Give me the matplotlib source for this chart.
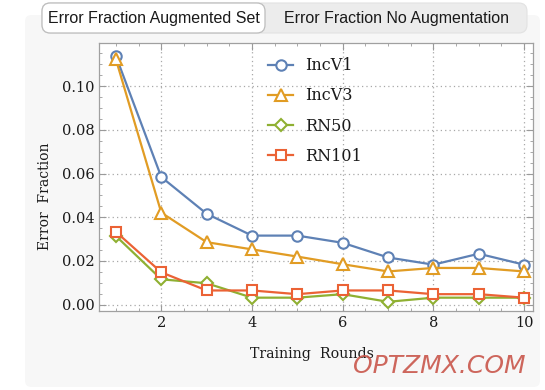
import matplotlib
matplotlib.use("Agg")
import matplotlib.pyplot as plt
from matplotlib.patches import FancyBboxPatch
from matplotlib.ticker import MultipleLocator

rounds = [1, 2, 3, 4, 5, 6, 7, 8, 9, 10]
incv1 = [0.1137, 0.0584, 0.0416, 0.0316, 0.0316, 0.0283, 0.0216, 0.0183, 0.0233, 0.0183]
incv3 = [0.1122, 0.0421, 0.0286, 0.0253, 0.0220, 0.0185, 0.0152, 0.0168, 0.0168, 0.0152]
rn50 = [0.0314, 0.0116, 0.0098, 0.0032, 0.0032, 0.0048, 0.0013, 0.0032, 0.0032, 0.0032]
rn101 = [0.0333, 0.0148, 0.0065, 0.0065, 0.0048, 0.0065, 0.0065, 0.0048, 0.0048, 0.0032]
series_names = ["IncV1", "IncV3", "RN50", "RN101"]
tab_labels = ["Error Fraction Augmented Set", "Error Fraction No Augmentation"]
xlabel = "Training  Rounds"
ylabel = "Error  Fraction"
watermark = "OPTZMX.COM"

W, H = 545, 390
fig = plt.figure(figsize=(W / 100, H / 100), dpi=100)
fig.patch.set_facecolor("white")

def fx(px):
    return px / W

def fy(py):
    return 1 - py / H

# gray panel
panel = FancyBboxPatch((fx(25), fy(387)), fx(540) - fx(25), fy(15) - fy(387),
                       boxstyle="round,pad=0,rounding_size=0.012",
                       transform=fig.transFigure, facecolor="#f7f7f7",
                       edgecolor="none", zorder=-2, mutation_aspect=W / H)
fig.patches.append(panel)

# tab bar background
tabbar = FancyBboxPatch((fx(42), fy(33)), fx(527) - fx(42), fy(3) - fy(33),
                        boxstyle="round,pad=0,rounding_size=0.015",
                        transform=fig.transFigure, facecolor="#ececec",
                        edgecolor="#e2e2e2", linewidth=0.8, zorder=-1,
                        mutation_aspect=W / H)
fig.patches.append(tabbar)
# selected tab
seltab = FancyBboxPatch((fx(42), fy(33)), fx(265) - fx(42), fy(3) - fy(33),
                        boxstyle="round,pad=0,rounding_size=0.015",
                        transform=fig.transFigure, facecolor="white",
                        edgecolor="#bdbdbd", linewidth=0.9, zorder=-0.5,
                        mutation_aspect=W / H)
fig.patches.append(seltab)
fig.text(fx(153.5), fy(18.5), tab_labels[0], ha="center", va="center",
         fontsize=11.5, family="Liberation Sans", color="#1a1a1a", zorder=3)
fig.text(fx(396), fy(18.5), tab_labels[1], ha="center", va="center",
         fontsize=11.5, family="Liberation Sans", color="#1a1a1a", zorder=3)

ax = fig.add_axes([fx(99.3), fy(311), fx(532.7) - fx(99.3), fy(43.3) - fy(311)])
ax.set_zorder(5)
ax.set_facecolor("white")

colors = ["#5E81B5", "#E19C24", "#8FB032", "#EB6235"]
markers = ["o", "^", "D", "s"]
msizes = [7.5, 8, 6.5, 7]
data = [incv1, incv3, rn50, rn101]
for vals, name, c, m, ms in zip(data, series_names, colors, markers, msizes):
    ax.plot(rounds, vals, color=c, marker=m, markersize=ms, markerfacecolor="white",
            markeredgecolor=c, markeredgewidth=1.5, linewidth=1.6, label=name,
            clip_on=False, zorder=3)

ax.set_xlim(0.633, 10.19)
ax.set_ylim(-0.0029, 0.1196)
ax.xaxis.set_minor_locator(MultipleLocator(0.5))
ax.yaxis.set_minor_locator(MultipleLocator(0.005))
ax.set_xticks([2, 4, 6, 8, 10])
ax.set_xticklabels(["2", "4", "6", "8", "10"])
ax.set_yticks([0.0, 0.02, 0.04, 0.06, 0.08, 0.10])
ax.set_yticklabels(["0.00", "0.02", "0.04", "0.06", "0.08", "0.10"])
ax.tick_params(which="both", direction="in", top=True, right=True, color="#9a9a9a",
               labelsize=10.5, labelcolor="#1a1a1a")
ax.tick_params(which="major", length=5, width=0.8)
ax.tick_params(which="minor", length=2.5, width=0.6)
for lab in ax.get_xticklabels() + ax.get_yticklabels():
    lab.set_family("DejaVu Serif")
for sp in ax.spines.values():
    sp.set_color("#a0a0a0")
    sp.set_linewidth(0.9)
ax.grid(True, which="major", linestyle=(0, (1, 2.5)), color="#a8a8a8", linewidth=0.9)
ax.set_axisbelow(True)

fig.text(fx(45), fy(196), ylabel, rotation=90, ha="center", va="center",
         fontsize=10, family="DejaVu Serif", color="#1a1a1a")
fig.text(fx(312), fy(354), xlabel, ha="center", va="center",
         fontsize=10.2, family="DejaVu Serif", color="#1a1a1a")

leg = ax.legend(loc="upper left",
                bbox_to_anchor=((254 - 99.3) / (532.7 - 99.3), 1 - (43 - 43.3) / (311 - 43.3)),
                frameon=False, prop={"family": "DejaVu Serif", "size": 11.5},
                labelspacing=0.82, handlelength=1.56, handletextpad=0.75)
for t in leg.get_texts():
    t.set_color("#1a1a1a")

fig.text(fx(439), fy(366), watermark, ha="center", va="center", fontsize=18,
         style="italic", family="DejaVu Sans", color="#c9564b", alpha=0.9, zorder=10)

fig.savefig("out.png", dpi=100, facecolor="white")
